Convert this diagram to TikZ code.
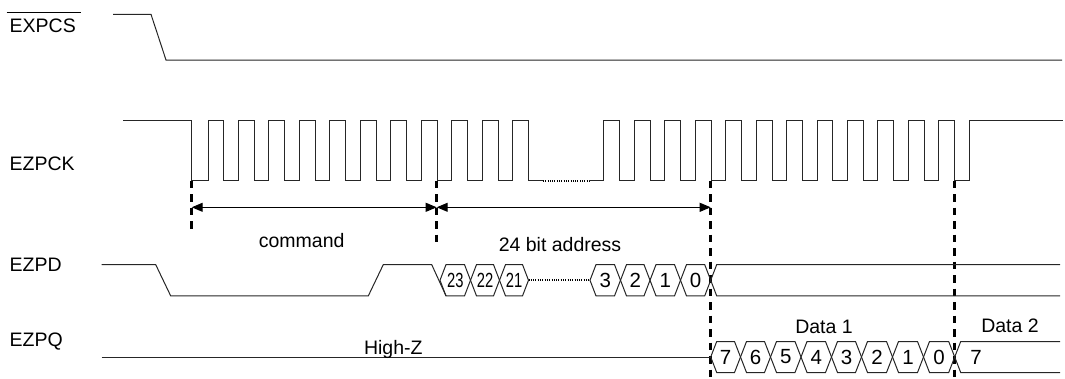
\documentclass[tikz,border=0pt]{standalone}
\usepackage{fontspec}
\setmainfont{Liberation Sans}
\usepackage{graphicx}
\usetikzlibrary{arrows.meta}
\tikzset{
  sig/.style={line width=1pt, black!85},
  guide/.style={line width=2.6pt, black, dash pattern=on 7.5pt off 6pt},
  dotline/.style={line width=2pt, black, dash pattern=on 1pt off 1.3pt},
  dimarrow/.style={line width=1pt, black, {Triangle[length=11pt,width=9pt]}-{Triangle[length=11pt,width=9pt]}},
  lbl/.style={font=\fontsize{19.5}{22}\selectfont, inner sep=0pt, text=black},
  digit/.style={font=\fontsize{20.5}{22}\selectfont, inner sep=0pt, text=black},
}
\newcommand\hexbox[6]{% #1 left, #2 right, #3 mid, #4 half height, #5 name, #6 text
  \draw[sig] (#1,#3) -- ({#1+6},{#3-#4}) -- ({#2-6},{#3-#4}) -- (#2,#3) -- ({#2-6},{#3+#4}) -- ({#1+6},{#3+#4}) -- cycle;
  \node[digit] (#5) at ({(#1+#2)/2},#3) {#6};}
\def\Fz{193.5}
\def\Pd{30.45}
\def\Hl{14.5}
\begin{document}
\begin{tikzpicture}[x=1pt,y=-1pt]
\useasboundingbox (0,0) rectangle (1065,378);

% signal names
\node[lbl, anchor=base west] (lcs) at (9.5,32.7) {EXPCS};
\draw[line width=1pt] ([shift={(-3pt,6.4pt)}]lcs.north west) -- ([shift={(5pt,6.4pt)}]lcs.north east);
\node[lbl, anchor=base west] (lck) at (9.5,170) {EZPCK};
\node[lbl, anchor=base west] (lpd) at (9.5,271.7) {EZPD};
\node[lbl, anchor=base west] (lpq) at (9.5,346.7) {EZPQ};

% EXPCS
\draw[sig] (113,14.3) -- (151,14.3) -- (166,60) -- (1062,60);

% EZPCK
\draw[sig] (123,120.7) -- (191.7,120.7) -- (191.7,180.7)
  foreach \k in {0,...,10} { -- ({\Fz+\Pd*\k+\Hl},180.7) -- ++(0,-60) -- ({\Fz+\Pd*(\k+1)},120.7) -- ++(0,60) }
  -- ++(\Hl,0);
\draw[dotline] ({\Fz+\Pd*11+\Hl},180.7) -- ({\Fz+\Pd*13},180.7);
\draw[sig] ({\Fz+\Pd*13},180.7)
  foreach \k in {13,...,24} { -- ({\Fz+\Pd*\k+\Hl},180.7) -- ++(0,-60) -- ({\Fz+\Pd*(\k+1)},120.7) -- ++(0,60) }
  -- ({\Fz+\Pd*25+\Hl},180.7) -- ++(0,-60) -- (1063,120.7);

% guide lines
\coordinate (g0) at (191.7,180.7);
\coordinate (g1) at (436.7,180.7);
\coordinate (g2) at (710.7,180.7);
\coordinate (g3) at (954.7,180.7);
\draw[guide] (g0) -- ++(0,50);
\draw[guide] (g1) -- ++(0,64);
\draw[guide] (g2) -- (710.7,378);
\draw[guide] (g3) -- (954.7,378);

% dimension arrows
\coordinate (a0) at (191.7,207.3);
\coordinate (a1) at (436.7,207.3);
\coordinate (a2) at (710.7,207.3);
\draw[dimarrow] (a0) -- (a1);
\draw[dimarrow] (a1) -- (a2);
\node[lbl, anchor=base] (tcmd) at (301.7,247.5) {command};
\node[lbl, anchor=base] (tadr) at (560,251.5) {24 bit address};

% EZPD
\draw[sig] (101.7,264.6) -- (155.7,264.6) -- (170.7,295.9) -- (368.3,295.9) -- (383.3,264.6) -- (431.7,264.6) -- (446,295.9);
\hexbox{440}{470.5}{280.25}{15.65}{d23}{\scalebox{0.72}[1]{23}}
\hexbox{470.5}{499.5}{280.25}{15.65}{d22}{\scalebox{0.72}[1]{22}}
\hexbox{499.5}{528.5}{280.25}{15.65}{d21}{\scalebox{0.72}[1]{21}}
\draw[dotline] (528.5,280.25) -- (590,280.25);
\hexbox{590}{620.5}{280.25}{15.65}{d3}{3}
\hexbox{620.5}{650}{280.25}{15.65}{d2}{2}
\hexbox{650}{680.5}{280.25}{15.65}{d1}{1}
\hexbox{680.5}{710.7}{280.25}{15.65}{d0}{0}
\draw[sig] (710.7,280.25) -- (716.7,264.6) -- (1060,264.6);
\draw[sig] (710.7,280.25) -- (716.7,295.9) -- (1060,295.9);

% EZPQ
\draw[sig] (101.7,357) -- (710.7,357);
\node[lbl, anchor=base] (thz) at (393.3,354) {High-Z};
\hexbox{710.7}{740.5}{357}{15.5}{q7}{7}
\hexbox{740.5}{770.5}{357}{15.5}{q6}{6}
\hexbox{770.5}{801}{357}{15.5}{q5}{5}
\hexbox{801}{831.5}{357}{15.5}{q4}{4}
\hexbox{831.5}{861.5}{357}{15.5}{q3}{3}
\hexbox{861.5}{892.5}{357}{15.5}{q2}{2}
\hexbox{892.5}{923.5}{357}{15.5}{q1}{1}
\hexbox{923.5}{954.7}{357}{15.5}{q0}{0}
\draw[sig] (954.7,357) -- (960.7,341.5) -- (1060,341.5);
\draw[sig] (954.7,357) -- (960.7,372.5) -- (1060,372.5);
\node[digit] (q27) at (976,357) {7};
\node[lbl, anchor=base] (td1) at (824,333.3) {Data 1};
\node[lbl, anchor=base] (td2) at (1010,332.7) {Data 2};
\end{tikzpicture}
\end{document}
